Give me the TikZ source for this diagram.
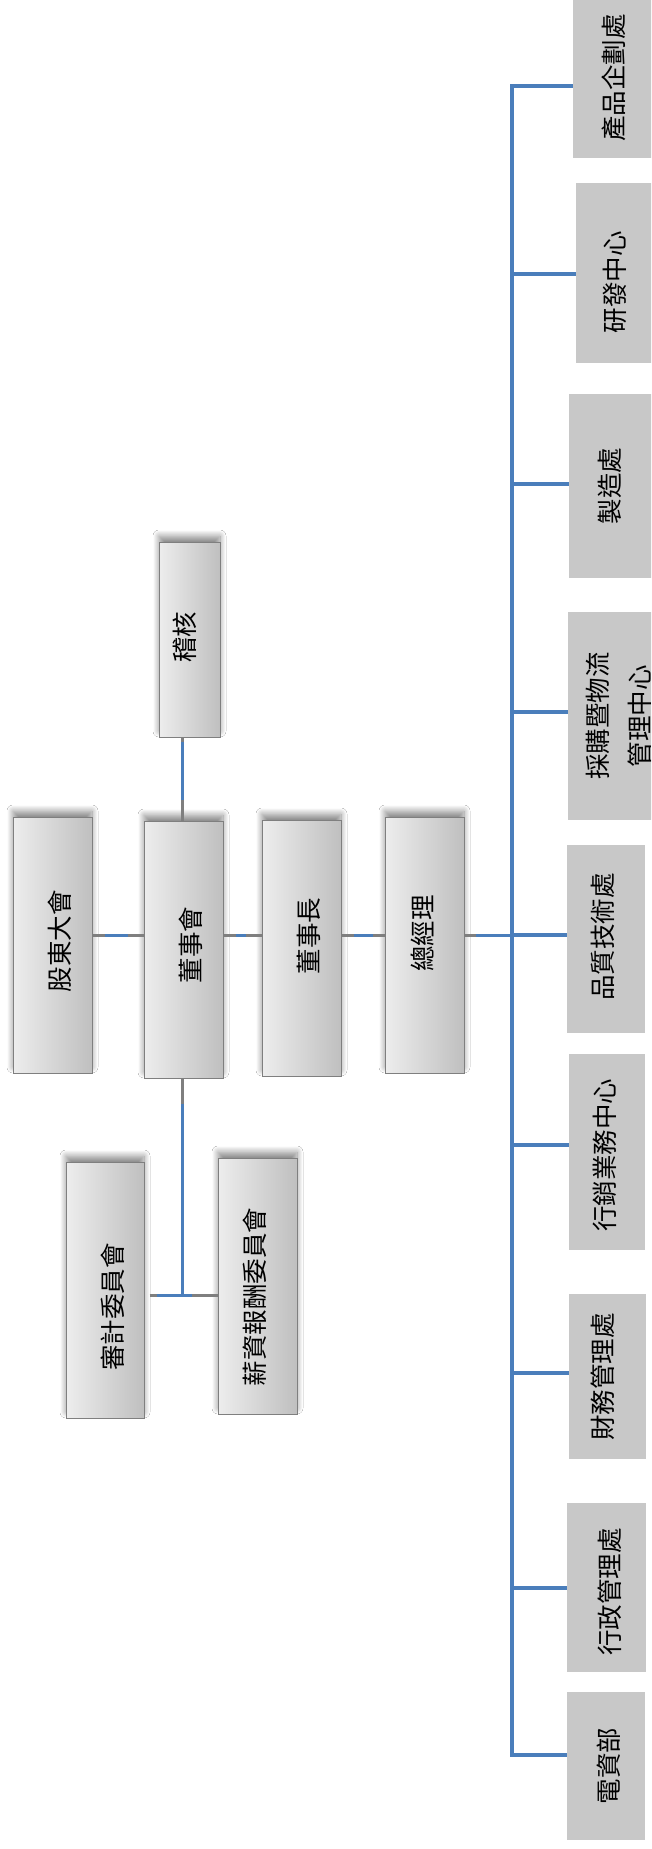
\documentclass[tikz,border=0pt]{standalone}
\usepackage{fontspec}
\setmainfont{Noto Sans CJK TC}
\usetikzlibrary{shadows.blur}
\definecolor{lnblue}{HTML}{4A7EBB}
\definecolor{lngray}{HTML}{7F7F7F}
\definecolor{unitfill}{HTML}{C8C8C8}
\begin{document}
\begin{tikzpicture}[x=1pt,y=-1pt,
  upbox/.style={draw=lngray, line width=1pt, left color=gray!14, right color=gray!50,
    minimum width=79pt, minimum height=256pt, inner sep=0pt,
    blur shadow={shadow xshift=0pt, shadow yshift=6pt, shadow blur radius=6pt, shadow blur steps=12, shadow opacity=45}},
  unitbox/.style={fill=unitfill, inner sep=0pt},
  txt/.style={rotate=90, inner sep=0pt, font=\fontsize{25.5pt}{42pt}\selectfont, align=center},
  gline/.style={draw=lngray, line width=3pt},
  bline/.style={draw=lnblue, line width=3pt},
  tline/.style={draw=lnblue, line width=3.5pt},
]
\useasboundingbox (0,0) rectangle (651,1849);
\clip (0,0) rectangle (651,1849);
\fill[white] (0,0) rectangle (651,1849);

% upper boxes
\node[upbox] (sh) at (52.5,945) {};
\node[upbox, minimum height=257pt] (board) at (183.5,949.5) {};
\node[upbox] (chair) at (301.5,948) {};
\node[upbox] (gm) at (424.5,945) {};
\node[upbox, minimum width=61pt, minimum height=195pt] (audit) at (189.5,639.5) {};
\node[upbox, minimum width=78pt] (ac) at (105,1290) {};
\node[upbox] (cc) at (257.5,1286) {};

\node[txt] (tsh) at (60,941) {股東大會};
\node[txt] (tboard) at (191,945) {董事會};
\node[txt] (tchair) at (309,936) {董事長};
\node[txt] (tgm) at (422.5,933.5) {總經理};
\node[txt] (taudit) at (184.5,637) {稽核};
\node[txt] (tac) at (112.5,1307) {審計委員會};
\node[txt] (tcc) at (254.5,1297) {薪資報酬委員會};

% lower units
\node[unitbox, minimum width=82pt, minimum height=168pt] (p1) at (614,74) {};
\node[unitbox, minimum width=79pt, minimum height=180pt] (p2) at (615.5,273) {};
\node[unitbox, minimum width=83pt, minimum height=184pt] (p3) at (610.5,486) {};
\node[unitbox, minimum width=102pt, minimum height=208pt] (p4) at (619,716) {};
\node[unitbox, minimum width=78pt, minimum height=188pt] (p5) at (606,939) {};
\node[unitbox, minimum width=76pt, minimum height=196pt] (p6) at (607,1152) {};
\node[unitbox, minimum width=77pt, minimum height=165pt] (p7) at (607.5,1376.5) {};
\node[unitbox, minimum width=79pt, minimum height=169pt] (p8) at (606.5,1587.5) {};
\node[unitbox, minimum width=78pt, minimum height=148pt] (p9) at (606,1766) {};

\node[txt] (tp1) at (614,78) {產品企劃處};
\node[txt] (tp2) at (615,282) {研發中心};
\node[txt] (tp3) at (610,486) {製造處};
\node[txt] (tp4) at (619,716) {採購暨物流\\管理中心};
\node[txt] (tp5) at (603,937) {品質技術處};
\node[txt] (tp6) at (605,1155) {行銷業務中心};
\node[txt] (tp7) at (603,1377) {財務管理處};
\node[txt] (tp8) at (610,1592) {行政管理處};
\node[txt] (tp9) at (609,1766) {電資部};

% coordinates
\coordinate (mid) at (0,935);
\coordinate (vx) at (182,0);
\coordinate (cj) at (182,1295);
\coordinate (j1) at (512,86);
\coordinate (j2) at (512,274);
\coordinate (j3) at (512,484);
\coordinate (j4) at (512,712);
\coordinate (j5) at (512,935);
\coordinate (j6) at (512,1145);
\coordinate (j7) at (512,1373);
\coordinate (j8) at (512,1588);
\coordinate (j9) at (512,1755);

% trunk and branches
\draw[tline, line join=miter] (j1 -| p1.west) -- (j1) -- (j9) -- (j9 -| p9.west);
\foreach \j/\p in {j2/p2, j3/p3, j4/p4, j5/p5, j6/p6, j7/p7, j8/p8}
  \draw[tline, line width=4pt] (\j) -- (\j -| \p.west);

% upper connectors
\draw[gline] (sh.east |- mid) -- (board.west |- mid);
\draw[bline, shorten <=12pt, shorten >=16pt] (sh.east |- mid) -- (board.west |- mid);
\draw[gline] (board.east |- mid) -- (chair.west |- mid);
\draw[bline, shorten <=12pt, shorten >=16pt] (board.east |- mid) -- (chair.west |- mid);
\draw[gline] (chair.east |- mid) -- (gm.west |- mid);
\draw[bline, shorten <=12pt, shorten >=12pt] (chair.east |- mid) -- (gm.west |- mid);
\draw[gline] (gm.east |- mid) -- (j5);
\draw[bline, shorten <=11pt] (gm.east |- mid) -- (j5);

\draw[gline] (audit.south -| vx) -- (board.north -| vx);
\draw[bline, shorten <=4pt, shorten >=21pt] (audit.south -| vx) -- (board.north -| vx);
\draw[gline] (board.south -| vx) -- (cj);
\draw[bline, shorten <=25pt] (board.south -| vx) -- (cj);
\draw[gline] ([xshift=5pt]ac.east |- cj) -- (cc.west |- cj);
\draw[bline, shorten <=7pt, shorten >=26pt] ([xshift=5pt]ac.east |- cj) -- (cc.west |- cj);
\end{tikzpicture}
\end{document}
